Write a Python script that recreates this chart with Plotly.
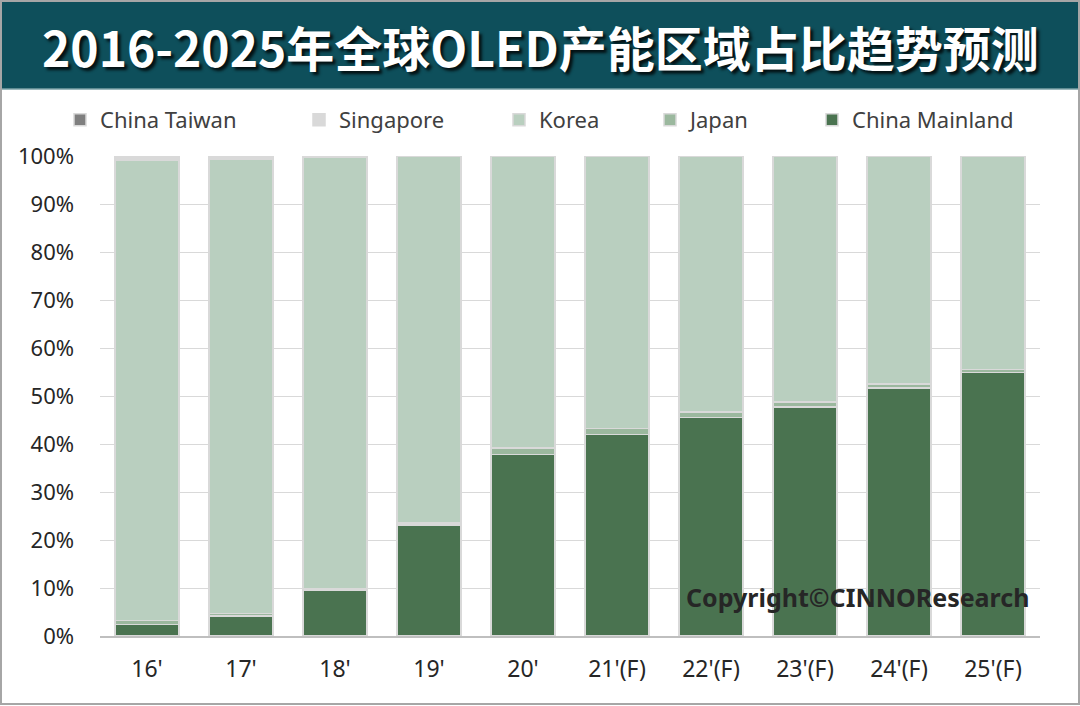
import plotly.graph_objects as go

categories = ["16'", "17'", "18'", "19'", "20'", "21'(F)", "22'(F)", "23'(F)", "24'(F)", "25'(F)"]
china_mainland = [2.4, 4.2, 9.6, 23.1, 37.8, 42.0, 45.5, 47.7, 51.7, 54.9]
japan = [0.8, 0.5, 0.3, 0.4, 1.4, 1.2, 1.2, 1.1, 0.8, 0.6]
korea = [96.0, 94.7, 89.8, 76.4, 60.7, 56.7, 53.2, 51.1, 47.4, 44.4]
singapore = [0.8, 0.6, 0.3, 0.1, 0.1, 0.1, 0.1, 0.1, 0.1, 0.1]
china_taiwan = [0.0, 0.0, 0.0, 0.0, 0.0, 0.0, 0.0, 0.0, 0.0, 0.0]
y_ticks = [0, 10, 20, 30, 40, 50, 60, 70, 80, 90, 100]
y_tick_labels = [f"{v}%" for v in y_ticks]

series = [
    ("China Mainland", china_mainland, "#4a7350", "legend5"),
    ("Japan", japan, "#9bb89e", "legend4"),
    ("Korea", korea, "#b9cfbf", "legend3"),
    ("Singapore", singapore, "#d9d9d9", "legend2"),
    ("China Taiwan", china_taiwan, "#7f7f7f", "legend"),
]

fig = go.Figure()
for name, vals, color, lg in series:
    fig.add_trace(go.Bar(
        x=categories, y=vals, name=name, legend=lg, showlegend=True,
        marker=dict(color=color, line=dict(color="#d9d9d9", width=1.5)),
        hoverinfo="x+y+name",
    ))

W, H = 1080, 706
L, R, T, B = 100, 40, 156, 70
pw, ph = W - L - R, H - T - B

def px2x(p):
    return (p - L) / pw

def py2y(p):
    return (H - B - p) / ph

legend_font = dict(family="Noto Sans, Open Sans, sans-serif", size=22, color="#404040")
legend_sym_x = {"legend": 77, "legend2": 316, "legend3": 516, "legend4": 667, "legend5": 829}
legend_layout = {}
for key, sx in legend_sym_x.items():
    legend_layout[key] = dict(
        x=px2x(sx - 17), y=py2y(120), xanchor="left", yanchor="middle",
        orientation="h", font=legend_font, bgcolor="rgba(0,0,0,0)",
        itemclick=False, itemdoubleclick=False, itemwidth=30,
    )

fig.update_layout(
    width=W, height=H,
    margin=dict(l=L, r=R, t=T, b=B, autoexpand=False),
    barmode="stack", bargap=0.32, showlegend=True,
    paper_bgcolor="white", plot_bgcolor="white",
    font=dict(family="Noto Sans, Open Sans, sans-serif", size=20, color="#262626"),
    **legend_layout,
    xaxis=dict(
        showgrid=False, showline=True, linecolor="#bfbfbf", linewidth=1.5,
        ticks="", ticklabelstandoff=12, tickfont=dict(size=23, color="#262626"),
        fixedrange=True,
    ),
    yaxis=dict(
        range=[0, 100], tickvals=y_ticks, ticktext=y_tick_labels,
        showgrid=True, gridcolor="#d9d9d9", gridwidth=1,
        zeroline=False, showline=False, ticks="", ticklabelstandoff=25,
        tickfont=dict(size=22, color="#262626"), fixedrange=True,
    ),
    shapes=[
        dict(type="rect", xref="paper", yref="paper",
             x0=px2x(0), x1=px2x(W), y0=py2y(89), y1=py2y(0),
             fillcolor="#0e4f5b", line=dict(width=0), layer="below"),
        dict(type="line", xref="paper", yref="paper",
             x0=px2x(0), x1=px2x(W), y0=py2y(89), y1=py2y(89),
             line=dict(color="#7aa0a6", width=1.5)),
        dict(type="rect", xref="paper", yref="paper",
             x0=px2x(1), x1=px2x(W - 1), y0=py2y(H - 2), y1=py2y(1),
             fillcolor="rgba(0,0,0,0)", line=dict(color="#a6a6a6", width=2)),
    ],
    annotations=[
        dict(text="<b>2016-2025年全球OLED产能区域占比趋势预测</b>",
             xref="paper", yref="paper", x=px2x(540), y=py2y(46),
             xanchor="center", yanchor="middle", showarrow=False,
             font=dict(family="Noto Sans CJK SC", size=48, color="white",
                       shadow="3px 3px 3px rgba(0,0,0,0.8)")),
        dict(text="<b>Copyright©CINNOResearch</b>",
             xref="paper", yref="paper", x=px2x(857), y=py2y(597),
             xanchor="center", yanchor="middle", showarrow=False,
             font=dict(family="Noto Sans, Open Sans, sans-serif", size=25, color="#262626")),
    ],
)

fig.write_html(
    "out.html",
    config={"displayModeBar": False},
    post_script="document.body.style.margin='0px'; document.body.style.overflow='hidden';",
)
